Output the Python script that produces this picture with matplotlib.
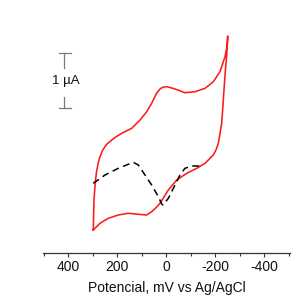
import matplotlib
matplotlib.use("Agg")
import matplotlib.pyplot as plt
from matplotlib.ticker import MultipleLocator

plt.rcParams['font.family'] = ['Liberation Sans', 'DejaVu Sans']

# Red CV curve (potential in mV vs Ag/AgCl, current in µA, arbitrary offset)
red_E = [298, 295, 290, 284.8, 278.7, 272.5, 260.3, 244, 222.8, 203.2, 182, 141.2, 107.3,
         80, 59.6, 39.2, 23.7, 11.4, -1.6, -15.1, -35.5, -76.3, -117, -158, -191.8, -219,
         -239.5, -248.9, -250.5,
         -246.4, -239.5, -232.6, -226, -212.2, -202.8, -191.8, -158, -124, -83.2, -42.4,
         -8.2, 25.7, 39.2, 59.6, 80, 114.2, 155, 195.8, 236.6, 270.5, 298]
red_I = [0.409, 0.955, 1.264, 1.464, 1.609, 1.718, 1.855, 1.964, 2.045, 2.109, 2.167, 2.258,
         2.409, 2.56, 2.713, 2.9, 2.982, 3.009, 3.015, 3.0, 2.973, 2.905, 2.924, 2.985,
         3.105, 3.287, 3.56, 3.773, 3.936,
         3.591, 3.227, 2.773, 2.349, 1.985, 1.864, 1.773, 1.622, 1.531, 1.44, 1.318,
         1.136, 0.895, 0.827, 0.742, 0.682, 0.695, 0.713, 0.682, 0.622, 0.531, 0.409]

# Black dashed curve
blk_E = [298, 250, 195.8, 134.6, 114.2, 86.9, 59.6, 32.6, 18.8, 13.5, -8.2, -28.6,
         -55.9, -76.3, -103.6, -144.4]
blk_I = [1.258, 1.409, 1.531, 1.64, 1.591, 1.409, 1.227, 1.015, 0.882, 0.864, 0.985, 1.167,
         1.409, 1.531, 1.573, 1.573]

xticks = [400, 200, 0, -200, -400]
xticklabels = ['400', '200', '0', '-200', '-400']

fig = plt.figure(figsize=(2.92, 2.99), dpi=100)
ax = fig.add_axes([0.1483, 0.1555, 0.8449, 0.811])

ax.plot(red_E, red_I, color='#ff1a1a', lw=1.15, solid_joinstyle='round')
ax.plot(blk_E, blk_I, color='black', lw=1.1, dashes=(4.5, 3))

ax.set_xlim(501.8, -504.7)
ax.set_ylim(0, 4.409)

for s in ['top', 'right', 'left']:
    ax.spines[s].set_visible(False)
ax.spines['bottom'].set_color('#333333')
ax.spines['bottom'].set_linewidth(0.9)
ax.set_yticks([])
ax.set_xticks(xticks)
ax.set_xticklabels(xticklabels)
ax.xaxis.set_minor_locator(MultipleLocator(100))
ax.tick_params(axis='x', which='major', length=3, width=0.8, color='#333333',
               labelsize=10, pad=2.5, labelcolor='#111111')
ax.tick_params(axis='x', which='minor', length=2.5, width=0.8, color='#333333')

fig.text(0.572, 0.037, 'Potencial, mV vs Ag/AgCl', ha='center', va='center',
         fontsize=10, color='#111111')

# scale bar (1 µA)
sb_x = 417.4
gray = '#7a7a7a'
ax.plot([sb_x, sb_x], [3.622, 3.36], color=gray, lw=0.9)
ax.plot([sb_x, sb_x], [2.833, 2.622], color=gray, lw=0.9)
ax.plot([436.6, 390], [3.622, 3.622], color=gray, lw=0.9)
ax.plot([436.6, 390], [2.622, 2.622], color=gray, lw=0.9)
ax.text(409, 3.118, '1 µA', ha='center', va='center', fontsize=9.5, color='#111111')

fig.savefig('out.png', dpi=100)
